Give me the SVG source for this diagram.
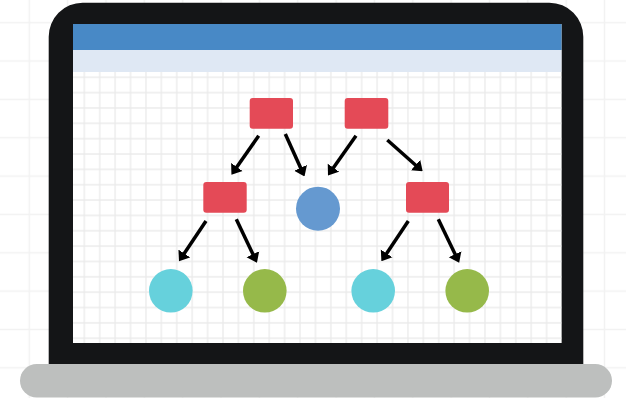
<svg xmlns="http://www.w3.org/2000/svg" width="626" height="398" viewBox="0 0 626 398">
  <style>
    .rnode { fill: #e44a57; }
    .edge { fill: none; stroke: #000; stroke-width: 3.5; marker-end: url(#arrow); }
  </style>
  <defs>
    <pattern id="outerGrid" patternUnits="userSpaceOnUse" x="10.1" y="3.5" width="38.35" height="38.35">
      <path d="M19.175 0 V38.35 M0 19.175 H38.35" stroke="#f2f2f2" stroke-width="1.5" fill="none"/>
    </pattern>
    <pattern id="innerGrid" patternUnits="userSpaceOnUse" x="76.6" y="69.6" width="15.41" height="15.35">
      <path d="M7.705 0 V15.35 M0 7.675 H15.41" stroke="#ebebeb" stroke-width="1.3" fill="none"/>
    </pattern>
    <marker id="arrow" markerUnits="userSpaceOnUse" markerWidth="9.5" markerHeight="15" viewBox="0 -0.5 9.5 15" refX="1" refY="7" orient="auto">
      <path d="M0,0 L9.5,7 L0,14 Z" fill="#000"/>
    </marker>
  </defs>

  <rect width="626" height="398" fill="#ffffff"/>
  <rect width="626" height="398" fill="url(#outerGrid)"/>

  <g id="laptop">
    <path d="M48.7,364 V37 A34,34 0 0 1 82.7,2.7 H549.3 A34,34 0 0 1 583.3,37 V364 Z" fill="#141517"/>
    <rect x="73" y="24" width="488.5" height="319" fill="#ffffff"/>
    <rect x="73" y="72" width="488.5" height="271" fill="url(#innerGrid)"/>
    <rect x="73" y="24" width="488.5" height="26" fill="#4889c6"/>
    <rect x="73" y="50" width="488.5" height="22" fill="#dfe8f4"/>
    <rect x="20" y="364" width="592" height="33.5" rx="16.75" fill="#bdbfbe"/>
  </g>

  <g id="connectors">
    <line class="edge" x1="258.7" y1="135.7" x2="236.3" y2="167.8"/>
    <line class="edge" x1="285.3" y1="134" x2="301.0" y2="168.7"/>
    <line class="edge" x1="356" y1="135.7" x2="332.9" y2="168.5"/>
    <line class="edge" x1="387.3" y1="140" x2="416.3" y2="165.7"/>
    <line class="edge" x1="206" y1="221" x2="183.7" y2="254.3"/>
    <line class="edge" x1="236.3" y1="219.3" x2="253.3" y2="255.1"/>
    <line class="edge" x1="408.3" y1="221" x2="386.1" y2="254.3"/>
    <line class="edge" x1="438.3" y1="219.3" x2="455.5" y2="255.1"/>
  </g>

  <g id="node-r1"><rect class="rnode" x="249.7" y="98" width="43.3" height="30.7" rx="3"/></g>
  <g id="node-r2"><rect class="rnode" x="344.7" y="98" width="43.6" height="30.7" rx="3"/></g>
  <g id="node-r3"><rect class="rnode" x="203.3" y="182" width="43.4" height="30.7" rx="3"/></g>
  <g id="node-r4"><rect class="rnode" x="406" y="182" width="43" height="30.7" rx="3"/></g>
  <g id="node-blue"><circle cx="318" cy="208.7" r="22" fill="#6599d0"/></g>
  <g id="node-c1"><circle cx="170.8" cy="290.8" r="21.8" fill="#66d1dc"/></g>
  <g id="node-g1"><circle cx="264.8" cy="290.8" r="21.8" fill="#96b94a"/></g>
  <g id="node-c2"><circle cx="373.2" cy="290.8" r="21.8" fill="#66d1dc"/></g>
  <g id="node-g2"><circle cx="467.2" cy="290.8" r="21.8" fill="#96b94a"/></g>
</svg>
